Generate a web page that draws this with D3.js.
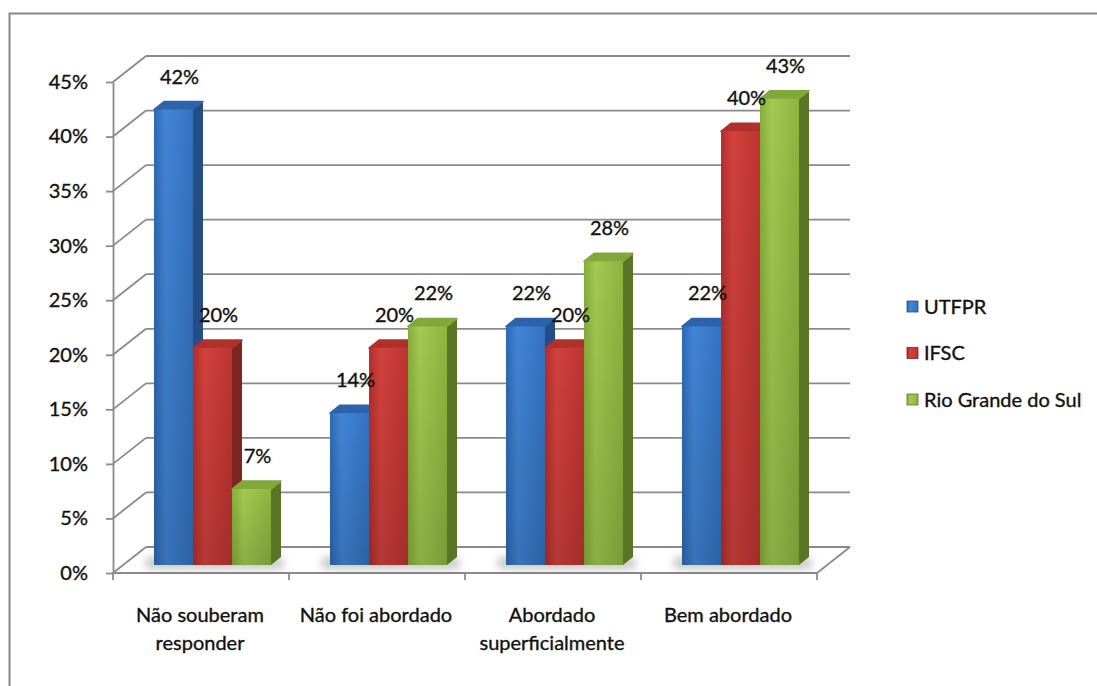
<!DOCTYPE html>
<html>
<head>
<meta charset="utf-8">
<script src="https://cdn.jsdelivr.net/npm/d3@7"></script>
<style>
  body { margin: 0; background: #fff; }
  text { font-family: Lato, "Open Sans", sans-serif; font-size: 20px; fill: #111; stroke: #111; stroke-width: 0.35px; }
</style>
</head>
<body>
<svg id="chart"></svg>
<script>
// data
var categories = ["Não souberam responder", "Não foi abordado", "Abordado superficialmente", "Bem abordado"];
var seriesNames = ["UTFPR", "IFSC", "Rio Grande do Sul"];
var utfpr = [42, 14, 22, 22];
var ifsc = [20, 20, 20, 40];
var rioGrande = [7, 22, 28, 43];
var yTicks = [0, 5, 10, 15, 20, 25, 30, 35, 40, 45];

var seriesValues = [utfpr, ifsc, rioGrande];
var colors = [
  {front: ["#2f68b4", "#4285d6", "#3472c0"], side: "#244d85", top: "#2d63ab"},
  {front: ["#b32e2b", "#d2413d", "#bd3431"], side: "#7e2421", top: "#b0302d"},
  {front: ["#86ad3a", "#a2c951", "#8cb53f"], side: "#5a7526", top: "#80a83a"}
];

var W = 1097, H = 686;
var svg = d3.select('#chart').attr('width', W).attr('height', H);
var defs = svg.append('defs');

// outer chart border
svg.append('rect')
   .attr('x', 9.5).attr('y', 13.5)
   .attr('width', 1200).attr('height', 800)
   .attr('fill', 'none').attr('stroke', '#878787').attr('stroke-width', 2);

var yF = d3.scaleLinear().domain([0, 45]).range([573, 82]);   // front plane
var wallDx = 33, wallDy = -26;                                 // back wall offset
var xF = d3.scaleBand().domain(categories).range([113, 817]);
var xS = d3.scaleBand().domain(seriesNames).range([0, 117]);
var barY = d3.scaleLinear().domain([0, 45]).range([565, 77]); // bars stand a bit inside
var barOff = 41, sideDx = 10, sideDy = -8;

var gridColor = '#8a8a8a';

// gradients
colors.forEach(function(c, i){
  var g = defs.append('linearGradient').attr('id', 'grad' + i)
              .attr('x1', 0).attr('x2', 1).attr('y1', 0).attr('y2', 0);
  g.append('stop').attr('offset', '0%').attr('stop-color', c.front[0]);
  g.append('stop').attr('offset', '30%').attr('stop-color', c.front[1]);
  g.append('stop').attr('offset', '100%').attr('stop-color', c.front[2]);
});
var vg = defs.append('linearGradient').attr('id', 'shade')
             .attr('x1', 0).attr('x2', 0).attr('y1', 0).attr('y2', 1);
vg.append('stop').attr('offset', '0%').attr('stop-color', '#000').attr('stop-opacity', 0);
vg.append('stop').attr('offset', '100%').attr('stop-color', '#000').attr('stop-opacity', 0.14);

defs.append('filter').attr('id', 'blur')
    .attr('x', '-50%').attr('y', '-50%').attr('width', '200%').attr('height', '200%')
    .append('feGaussianBlur').attr('stdDeviation', 4);

// back wall gridlines + side wall diagonals
var grid = svg.append('g');
grid.selectAll('line.back')
    .data(yTicks).enter().append('line')
    .attr('x1', 113 + wallDx).attr('x2', 817 + wallDx)
    .attr('y1', function(d){ return yF(d) + wallDy; })
    .attr('y2', function(d){ return yF(d) + wallDy; })
    .attr('stroke', gridColor).attr('stroke-width', 1.8);
grid.selectAll('line.diag')
    .data(yTicks).enter().append('line')
    .attr('x1', 113).attr('x2', 113 + wallDx)
    .attr('y1', function(d){ return yF(d); })
    .attr('y2', function(d){ return yF(d) + wallDy; })
    .attr('stroke', gridColor).attr('stroke-width', 1.8);
// floor right edge
grid.append('line')
    .attr('x1', 817).attr('y1', yF(0))
    .attr('x2', 817 + wallDx).attr('y2', yF(0) + wallDy)
    .attr('stroke', gridColor).attr('stroke-width', 1.8);

// y axis
var yAxis = svg.append('g')
   .attr('transform', 'translate(113,0)')
   .call(d3.axisLeft(yF).tickValues(yTicks).tickSize(7).tickSizeOuter(0).tickPadding(18)
         .tickFormat(function(d){ return d + '%'; }));
yAxis.selectAll('path, line').attr('stroke', gridColor).attr('stroke-width', 1.8);
yAxis.selectAll('text').attr('font-size', 20).attr('font-family', null).attr('fill', '#111');

// x axis line and ticks at band edges
svg.append('line')
   .attr('x1', 113).attr('x2', 817).attr('y1', yF(0)).attr('y2', yF(0))
   .attr('stroke', gridColor).attr('stroke-width', 1.8);
var edges = categories.map(function(c){ return xF(c); }).concat([817]);
svg.selectAll('line.xt').data(edges).enter().append('line')
   .attr('x1', function(d){ return d; }).attr('x2', function(d){ return d; })
   .attr('y1', yF(0)).attr('y2', yF(0) + 7)
   .attr('stroke', gridColor).attr('stroke-width', 1.8);

// category labels (wrapped)
var catLabels = svg.selectAll('text.cat').data(categories).enter().append('text')
   .attr('class', 'cat')
   .attr('text-anchor', 'middle')
   .attr('x', function(d){ return xF(d) + xF.bandwidth() / 2 - 1; })
   .attr('y', 622);
catLabels.each(function(d){
  var t = d3.select(this), words = d.split(' '), line = [], lines = [];
  var probe = t.append('tspan');
  words.forEach(function(w){
    var test = line.concat([w]).join(' ');
    probe.text(test);
    if (probe.node().getComputedTextLength() > 170 && line.length) {
      lines.push(line.join(' '));
      line = [w];
    } else line.push(w);
  });
  lines.push(line.join(' '));
  probe.remove();
  var x = t.attr('x');
  lines.forEach(function(l, i){
    t.append('tspan').attr('x', x).attr('dy', i ? 28 : 0).text(l);
  });
});

// bars
var bars = svg.append('g');
categories.forEach(function(cat, ci){
  var gx0 = xF(cat) + barOff;
  // soft floor shadow
  bars.append('rect')
      .attr('x', gx0 - 8).attr('y', barY(0) - 8)
      .attr('width', xS.range()[1] + 20).attr('height', 12)
      .attr('fill', '#000').attr('opacity', 0.22)
      .attr('filter', 'url(#blur)');
  seriesNames.forEach(function(name, si){
    var v = seriesValues[si][ci];
    var x0 = gx0 + xS(name), x1 = x0 + xS.bandwidth();
    var yt = barY(v), yb = barY(0);
    var c = colors[si];
    bars.append('polygon')
        .attr('points', [[x1, yt], [x1 + sideDx, yt + sideDy], [x1 + sideDx, yb + sideDy], [x1, yb]].join(' '))
        .attr('fill', c.side);
    bars.append('polygon')
        .attr('points', [[x0, yt], [x1, yt], [x1 + sideDx, yt + sideDy], [x0 + sideDx, yt + sideDy]].join(' '))
        .attr('fill', c.top).attr('stroke', c.top).attr('stroke-width', 1.5).attr('stroke-linejoin', 'round');
    bars.append('rect')
        .attr('x', x0).attr('y', yt).attr('width', x1 - x0).attr('height', yb - yt)
        .attr('fill', 'url(#grad' + si + ')');
    bars.append('rect')
        .attr('x', x0).attr('y', yt).attr('width', x1 - x0).attr('height', yb - yt)
        .attr('fill', 'url(#shade)');
  });
});

// data labels
categories.forEach(function(cat, ci){
  seriesNames.forEach(function(name, si){
    var v = seriesValues[si][ci];
    svg.append('text')
       .attr('text-anchor', 'middle')
       .attr('x', xF(cat) + barOff + xS(name) + xS.bandwidth() / 2 + 6)
       .attr('y', barY(v) - 26)
       .text(v + '%');
  });
});

// legend
var legend = svg.append('g').attr('transform', 'translate(907,300)');
var li = legend.selectAll('g').data(seriesNames).enter().append('g')
   .attr('transform', function(d, i){ return 'translate(0,' + (i * 46.5) + ')'; });
li.append('rect').attr('width', 11).attr('height', 11).attr('y', 1)
  .attr('fill', function(d, i){ return 'url(#grad' + i + ')'; })
  .attr('stroke', function(d, i){ return colors[i].side; }).attr('stroke-width', 0.8);
li.append('text').attr('x', 17).attr('y', 13.5).text(function(d){ return d; });
</script>
</body>
</html>
